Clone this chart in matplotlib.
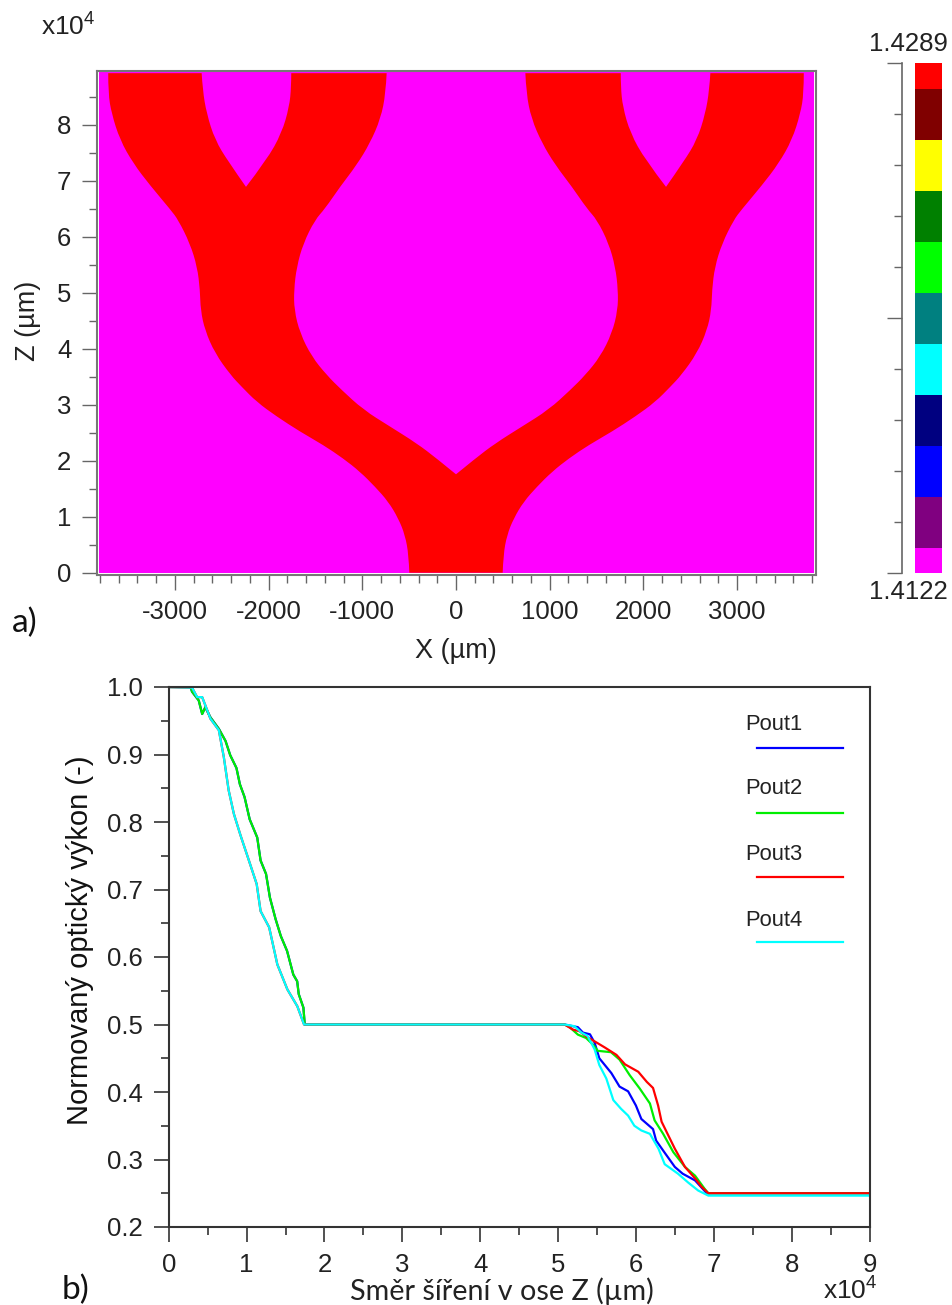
import matplotlib
matplotlib.use('Agg')
import matplotlib.pyplot as plt
from matplotlib.colors import ListedColormap
from matplotlib.patches import PathPatch
from matplotlib.path import Path
from matplotlib.ticker import MultipleLocator, FixedLocator, NullFormatter

W, H = 952, 1305

# Obrys levé poloviny struktury (X v um, Z v 1e4 um)
outer_x = [-498, -505, -544, -616, -722, -864, -1025, -1203, -1416, -1665, -1914, -2127, -2287, -2405,
           -2572, -2679, -2725, -2732, -2761, -2839, -2964, -3045, -3266, -3444, -3586, -3675, -3711, -3711]
outer_z = [0, 0.316, 0.673, 0.971, 1.268, 1.536, 1.804, 2.04, 2.28, 2.52, 2.79, 3.05, 3.32, 3.53,
           3.92, 4.33, 4.69, 5.05, 5.46, 5.88, 6.30, 6.48, 6.92, 7.31, 7.73, 8.20, 8.56, 8.92]
gap_left_x = [-2714, -2703, -2661, -2572, -2430, -2241]
gap_left_z = [8.92, 8.62, 8.20, 7.73, 7.34, 6.89]
gap_right_x = [-2241, -2020, -1860, -1779, -1758, -1758]
gap_right_z = [6.89, 7.37, 7.85, 8.32, 8.68, 8.92]
inner_x = [-740, -750, -804, -918, -1060, -1238, -1398, -1505, -1630, -1700, -1729, -1726, -1665, -1540,
           -1380, -1225, -989, -704, -419, -206, 0]
inner_z = [8.92, 8.56, 8.11, 7.67, 7.28, 6.89, 6.50, 6.30, 5.88, 5.46, 5.05, 4.69, 4.28, 3.86,
           3.53, 3.27, 2.91, 2.61, 2.31, 2.04, 1.757]

# Barevna skala
scale_levels = [1.4122, 1.41387, 1.41554, 1.41721, 1.41888, 1.42055, 1.42222, 1.42389, 1.42556, 1.42723, 1.4289]
scale_colors = ['#ff00ff', '#800080', '#0000ff', '#000080', '#00ffff', '#008080',
                '#00ff00', '#008000', '#ffff00', '#800000', '#ff0000']

# Krivky vykonu
green_up_x = [0, 0.28, 0.30, 0.386, 0.43, 0.47, 0.536, 0.644, 0.73, 0.79, 0.87, 0.914, 0.974, 1.04, 1.137,
              1.18, 1.25, 1.30, 1.373, 1.44, 1.52, 1.60, 1.65, 1.67, 1.73, 1.747]
green_up_y = [1, 1, 0.993, 0.98, 0.96, 0.97, 0.955, 0.938, 0.92, 0.899, 0.88, 0.856, 0.837, 0.804, 0.777,
              0.743, 0.723, 0.688, 0.656, 0.631, 0.609, 0.574, 0.564, 0.545, 0.525, 0.5]
cyan_up_x = [0, 0.30, 0.365, 0.43, 0.47, 0.536, 0.644, 0.708, 0.77, 0.837, 0.923, 1.03, 1.13, 1.18, 1.29,
             1.395, 1.524, 1.652, 1.738]
cyan_up_y = [1, 0.999, 0.985, 0.985, 0.973, 0.953, 0.936, 0.896, 0.847, 0.812, 0.78, 0.743, 0.708, 0.668, 0.644,
             0.589, 0.552, 0.527, 0.5]

pout1_x = [5.084, 5.255, 5.32, 5.41, 5.47, 5.53, 5.685, 5.79, 5.90, 6.00, 6.07, 6.22, 6.26, 6.37, 6.50, 6.60, 6.76, 6.91, 9.0]
pout1_y = [0.5, 0.496, 0.488, 0.4855, 0.473, 0.45, 0.428, 0.408, 0.401, 0.38, 0.36, 0.345, 0.328, 0.31, 0.289, 0.279, 0.269, 0.25, 0.25]
pout2_x = [5.084, 5.15, 5.255, 5.36, 5.45, 5.51, 5.68, 5.79, 5.92, 6.05, 6.18, 6.24, 6.35, 6.48, 6.63, 6.76, 6.88, 6.93, 9.0]
pout2_y = [0.5, 0.496, 0.485, 0.48, 0.47, 0.461, 0.459, 0.448, 0.425, 0.405, 0.383, 0.358, 0.338, 0.311, 0.289, 0.276, 0.257, 0.25, 0.25]
pout3_x = [5.084, 5.19, 5.277, 5.36, 5.47, 5.60, 5.75, 5.86, 6.03, 6.14, 6.22, 6.285, 6.33, 6.415, 6.50, 6.63, 6.76, 6.84, 6.93, 9.0]
pout3_y = [0.5, 0.4925, 0.49, 0.4825, 0.475, 0.466, 0.455, 0.441, 0.43, 0.415, 0.406, 0.38, 0.356, 0.336, 0.316, 0.289, 0.272, 0.26, 0.25, 0.25]
pout4_x = [5.084, 5.21, 5.30, 5.38, 5.47, 5.53, 5.62, 5.71, 5.81, 5.90, 5.98, 6.07, 6.18, 6.29, 6.37, 6.54, 6.67, 6.80, 6.93, 9.0]
pout4_y = [0.5, 0.4975, 0.488, 0.483, 0.463, 0.44, 0.42, 0.388, 0.375, 0.365, 0.35, 0.343, 0.338, 0.316, 0.293, 0.279, 0.266, 0.254, 0.2465, 0.2465]

series_names = ['Pout1', 'Pout2', 'Pout3', 'Pout4']
series_colors = ['#0000ff', '#00ee00', '#ff0000', '#00ffff']

plt.rcParams['font.family'] = ['Liberation Sans', 'DejaVu Sans']
plt.rcParams['mathtext.default'] = 'regular'
plt.rcParams['axes.unicode_minus'] = False


def axes_px(left, top, right, bottom):
    return fig.add_axes([left / W, 1 - bottom / H, (right - left) / W, (bottom - top) / H])


def label_px(x, y, s, **kw):
    fig.text(x / W, 1 - y / H, s, **kw)


def add_edge(verts, codes, xs, zs):
    # hladky okraj: nactene body jsou ridici body kvadratickych Bezierovych krivek
    verts.append((xs[0], zs[0]))
    codes.append(Path.LINETO if codes else Path.MOVETO)
    for i in range(1, len(xs) - 1):
        end = (xs[-1], zs[-1]) if i == len(xs) - 2 else ((xs[i] + xs[i + 1]) / 2, (zs[i] + zs[i + 1]) / 2)
        verts += [(xs[i], zs[i]), end]
        codes += [Path.CURVE3, Path.CURVE3]


fig = plt.figure(figsize=(W / 100, H / 100), dpi=100, facecolor='white')

# a) struktura
ax1 = axes_px(96.5, 70.5, 815.5, 574.5)
ax1.set_xlim(-3836, 3836)
ax1.set_ylim(-0.032, 8.968)
ax1.fill([-3810, 3820, 3820, -3810], [0, 0, 8.955, 8.955], color='#ff00ff', lw=0)

edges = [(outer_x, outer_z), (gap_left_x, gap_left_z), (gap_right_x, gap_right_z), (inner_x, inner_z)]
verts, codes = [], []
for xs, zs in edges:
    add_edge(verts, codes, xs, zs)
for xs, zs in reversed(edges):
    add_edge(verts, codes, [-v for v in reversed(xs)], list(reversed(zs)))
verts.append(verts[0])
codes.append(Path.CLOSEPOLY)
ax1.add_patch(PathPatch(Path(verts, codes), facecolor='#ff0000', edgecolor='none'))

for s in ax1.spines.values():
    s.set_color('#777777')
    s.set_linewidth(1.5)
ax1.xaxis.set_major_locator(MultipleLocator(1000))
ax1.xaxis.set_minor_locator(MultipleLocator(200))
ax1.yaxis.set_major_locator(MultipleLocator(1))
ax1.yaxis.set_minor_locator(MultipleLocator(0.5))
ax1.tick_params(which='major', length=11, width=1, color='#666666', labelsize=18.5, labelcolor='#222222', pad=7.5)
ax1.tick_params(axis='y', which='major', pad=7)
ax1.tick_params(which='minor', length=6, width=1, color='#666666')
ax1.set_xlabel('X (µm)', fontsize=19.5, color='#222222')
ax1.set_ylabel('Z (µm)', fontsize=19.5, color='#222222')
ax1.xaxis.set_label_coords(0.5, 1 - (651 - 70.5) / 504, transform=ax1.transAxes)
ax1.xaxis.label.set_va('center')
ax1.yaxis.set_label_coords((28 - 96.5) / 719, 0.5 - (321 - 322.5) / 504, transform=ax1.transAxes)
ax1.yaxis.label.set_va('center')
label_px(68, 36, 'x10$^{4}$', fontsize=19, color='#222222', ha='center', va='baseline')

# barevna skala
bar_edges = [scale_levels[0]]
for a, b in zip(scale_levels[:-1], scale_levels[1:]):
    bar_edges.append((a + b) / 2)
bar_edges.append(scale_levels[-1])

ax_bar = axes_px(915, 63.3, 942, 573)
ax_bar.pcolormesh([0, 1], bar_edges, [[i] for i in range(len(scale_colors))],
                  cmap=ListedColormap(scale_colors), vmin=-0.5, vmax=len(scale_colors) - 0.5)
ax_bar.set_ylim(scale_levels[0], scale_levels[-1])
ax_bar.axis('off')

ax_tick = axes_px(902, 63.3, 903, 573)
ax_tick.set_ylim(scale_levels[0], scale_levels[-1])
ax_tick.set_xticks([])
for name in ['top', 'bottom', 'right']:
    ax_tick.spines[name].set_visible(False)
ax_tick.spines['left'].set_color('#666666')
ax_tick.spines['left'].set_linewidth(1.2)
ax_tick.yaxis.set_major_locator(FixedLocator([scale_levels[0], scale_levels[5], scale_levels[-1]]))
ax_tick.yaxis.set_minor_locator(FixedLocator(scale_levels))
ax_tick.yaxis.set_major_formatter(NullFormatter())
ax_tick.tick_params(which='major', length=11, width=1, color='#666666')
ax_tick.tick_params(which='minor', length=6, width=1, color='#666666')
label_px(908, 44, '1.4289', fontsize=18.5, color='#222222', ha='center', va='center')
label_px(908, 592, '1.4122', fontsize=18.5, color='#222222', ha='center', va='center')
label_px(12, 623, 'a)', fontsize=24, family=['Lato', 'DejaVu Sans'], color='#111111', ha='left', va='center')

# b) vykon
ax2 = axes_px(168.7, 687, 869.5, 1227)
ax2.set_xlim(0, 9)
ax2.set_ylim(0.2, 1.0)
ax2.plot(green_up_x + pout1_x, green_up_y + pout1_y, color=series_colors[0], lw=1.6)
ax2.plot(green_up_x + pout2_x, green_up_y + pout2_y, color=series_colors[1], lw=1.6)
ax2.plot(cyan_up_x + pout3_x, cyan_up_y + pout3_y, color=series_colors[2], lw=1.6)
ax2.plot(cyan_up_x + pout4_x, cyan_up_y + pout4_y, color=series_colors[3], lw=1.6)

for s in ax2.spines.values():
    s.set_color('#333333')
    s.set_linewidth(1.5)
ax2.xaxis.set_major_locator(MultipleLocator(1))
ax2.xaxis.set_minor_locator(MultipleLocator(0.5))
ax2.yaxis.set_major_locator(MultipleLocator(0.1))
ax2.yaxis.set_minor_locator(MultipleLocator(0.05))
ax2.yaxis.set_major_formatter('{x:.1f}')
ax2.tick_params(which='major', length=11, width=1.2, color='#333333', labelsize=18.5, labelcolor='#222222', pad=7.5)
ax2.tick_params(which='minor', length=6, width=1.2, color='#333333')
ax2.set_ylabel('Normovaný optický výkon (-)', fontsize=21, color='#111111')
ax2.yaxis.set_label_coords((80 - 168.7) / 700.8, 0.5 - (940 - 957) / 540, transform=ax2.transAxes)
ax2.yaxis.label.set_va('center')
label_px(502, 1291, 'Směr šíření v ose Z (µm)', fontsize=20.7, family=['Lato', 'DejaVu Sans'],
         color='#222222', ha='center', va='center')
label_px(850, 1305, 'x10$^{4}$', fontsize=19, color='#222222', ha='center', va='bottom')
label_px(62, 1290, 'b)', fontsize=24, family=['Lato', 'DejaVu Sans'], color='#111111', ha='left', va='center')

# legenda: text nad carou
legend_text_y = [724, 789, 855, 920]
legend_line_y = [748, 813, 877, 942]
for name, color, ty, ly in zip(series_names, series_colors, legend_text_y, legend_line_y):
    label_px(745, ty, name, fontsize=15.8, color='#222222', ha='left', va='center')
    ax2.plot([757 / W, 843 / W], [1 - ly / H, 1 - ly / H], color=color, lw=1.6, transform=fig.transFigure)

fig.savefig('out.png', dpi=100)
